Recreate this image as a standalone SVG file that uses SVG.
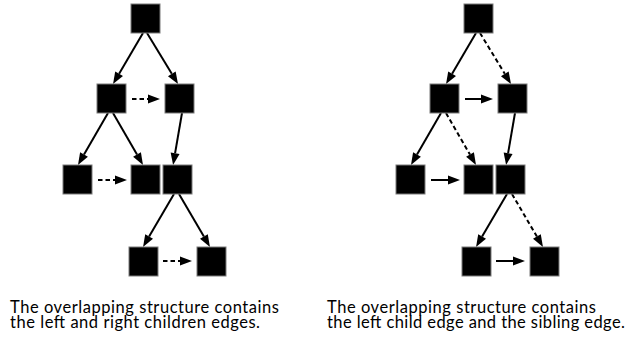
<svg xmlns="http://www.w3.org/2000/svg" width="631" height="337" viewBox="0 0 631 337">
  <style>
    .node { fill: #000; stroke: #7a7a7a; stroke-width: 1; }
    .edge { fill: none; stroke: #000; stroke-width: 2; marker-end: url(#head); }
    .dash { stroke-dasharray: 4.5 3; }
    .caption { font-family: "Lato", "Open Sans", sans-serif; font-size: 16.5px; fill: #000; }
  </style>
  <defs>
    <!-- arrowhead: base sits at the line end, tip points 12px further on -->
    <marker id="head" markerUnits="userSpaceOnUse" markerWidth="13" markerHeight="10" refX="0" refY="4.5" orient="auto" overflow="visible">
      <path d="M0,0 L12,4.5 L0,9 Z" fill="#000"/>
    </marker>
  </defs>

  <!-- Left tree: child edges solid, sibling edges dashed -->
  <g id="connectors-left">
    <line class="edge" x1="143" y1="33" x2="119.1" y2="73.7"/>
    <line class="edge" x1="147" y1="33" x2="171.8" y2="73.8"/>
    <line class="edge" x1="108" y1="113" x2="84" y2="154.6"/>
    <line class="edge" x1="113" y1="113" x2="137" y2="154.6"/>
    <line class="edge" x1="182" y1="113" x2="175.1" y2="153.2"/>
    <line class="edge" x1="174" y1="194" x2="149.1" y2="236.6"/>
    <line class="edge" x1="179" y1="194" x2="203.9" y2="236.6"/>
    <line class="edge dash" x1="132" y1="99" x2="148" y2="99"/>
    <line class="edge dash" x1="98" y1="180" x2="115" y2="180"/>
    <line class="edge dash" x1="163" y1="261" x2="180" y2="261"/>
  </g>

  <!-- Right tree: right-child edges dashed, sibling edges solid -->
  <g id="connectors-right">
    <line class="edge" x1="476" y1="33" x2="452.1" y2="73.7"/>
    <line class="edge dash" x1="480" y1="33" x2="504.8" y2="73.8"/>
    <line class="edge" x1="441" y1="113" x2="417" y2="154.6"/>
    <line class="edge dash" x1="446" y1="113" x2="470" y2="154.6"/>
    <line class="edge" x1="515" y1="113" x2="508.1" y2="153.2"/>
    <line class="edge" x1="507" y1="194" x2="482.1" y2="236.6"/>
    <line class="edge dash" x1="512" y1="194" x2="536.9" y2="236.6"/>
    <line class="edge" x1="465" y1="99" x2="481" y2="99"/>
    <line class="edge" x1="431" y1="180" x2="448" y2="180"/>
    <line class="edge" x1="496" y1="261" x2="513" y2="261"/>
  </g>

  <!-- Left tree nodes -->
  <g id="l-root"><rect class="node" x="131" y="4" width="29" height="29"/></g>
  <g id="l-a"><rect class="node" x="97" y="84" width="29" height="29"/></g>
  <g id="l-b"><rect class="node" x="165" y="84" width="29" height="29"/></g>
  <g id="l-c"><rect class="node" x="63" y="165" width="29" height="29"/></g>
  <g id="l-d"><rect class="node" x="131" y="165" width="29" height="29"/></g>
  <g id="l-e"><rect class="node" x="163" y="165" width="29" height="29"/></g>
  <g id="l-f"><rect class="node" x="129" y="247" width="29" height="29"/></g>
  <g id="l-g"><rect class="node" x="197" y="247" width="29" height="29"/></g>

  <!-- Right tree nodes -->
  <g id="r-root"><rect class="node" x="464" y="4" width="29" height="29"/></g>
  <g id="r-a"><rect class="node" x="430" y="84" width="29" height="29"/></g>
  <g id="r-b"><rect class="node" x="498" y="84" width="29" height="29"/></g>
  <g id="r-c"><rect class="node" x="396" y="165" width="29" height="29"/></g>
  <g id="r-d"><rect class="node" x="464" y="165" width="29" height="29"/></g>
  <g id="r-e"><rect class="node" x="496" y="165" width="29" height="29"/></g>
  <g id="r-f"><rect class="node" x="462" y="247" width="29" height="29"/></g>
  <g id="r-g"><rect class="node" x="530" y="247" width="29" height="29"/></g>

  <!-- Captions -->
  <g id="caption-left" class="caption">
    <text x="10" y="312.7" textLength="269">The overlapping structure contains</text>
    <text x="10" y="327.7" textLength="250">the left and right children edges.</text>
  </g>
  <g id="caption-right" class="caption">
    <text x="327" y="312.7" textLength="269">The overlapping structure contains</text>
    <text x="327" y="327.7" textLength="298">the left child edge and the sibling edge.</text>
  </g>
</svg>
